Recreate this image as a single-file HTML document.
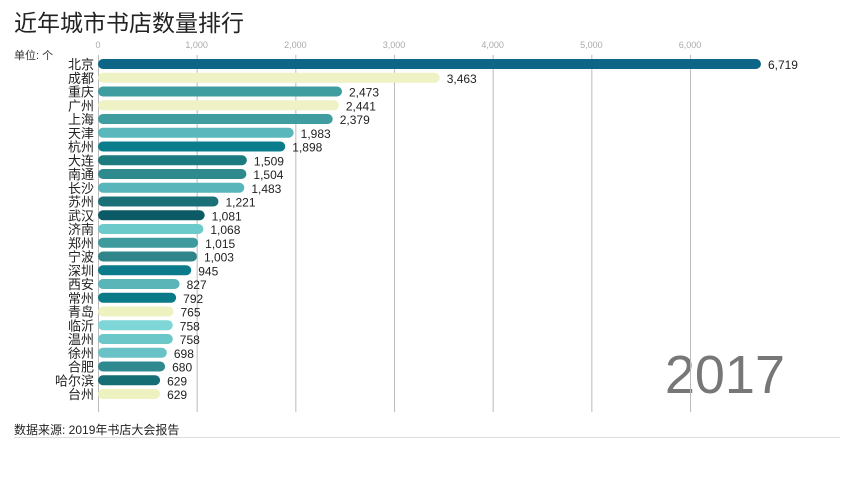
<!DOCTYPE html>
<html><head><meta charset="utf-8"><style>
body{margin:0;background:#fff;font-family:"Liberation Sans","Noto Sans CJK SC",sans-serif;}
svg text{font-family:"Liberation Sans","Noto Sans CJK SC",sans-serif;}
</style></head><body>
<svg id="c" width="854" height="480">
<text x="14" y="31" font-size="23" fill="#222">近年城市书店数量排行</text>
<text x="14" y="59" font-size="11" fill="#333">单位: 个</text>
<text x="14" y="434" font-size="12" fill="#222">数据来源: 2019年书店大会报告</text>
<line x1="14" y1="437.5" x2="840" y2="437.5" stroke="#ddd"/>
<text x="785" y="393" font-size="54" fill="#777" text-anchor="end">2017</text>
<g id="grid"></g><g id="bars"></g>
</svg>
<script>
const cities=["北京","成都","重庆","广州","上海","天津","杭州","大连","南通","长沙","苏州","武汉","济南","郑州","宁波","深圳","西安","常州","青岛","临沂","温州","徐州","合肥","哈尔滨","台州"];
const values=[6719,3463,2473,2441,2379,1983,1898,1509,1504,1483,1221,1081,1068,1015,1003,945,827,792,765,758,758,698,680,629,629];
const colors=["#0d6688","#eef2c4","#3f9da0","#eef2c4","#3f9da0","#5ab8bc","#0a7d8c","#1d7a7e","#2f8a8e","#58b5ba","#1b7078","#0c5a66","#6ccacb","#3f9a9e","#2f858a","#0b7a8a","#5ab5b8","#0b7a88","#eef2c0","#7fd6d6","#6cc7c8","#68c2c6","#2f8a90","#156e74","#eef2c0"];
const ticks=[0,1000,2000,3000,4000,5000,6000];
const NS="http://www.w3.org/2000/svg";
const x=v=>98+v*98.67/1000;
const y=i=>64+i*13.75;
const g=document.getElementById('grid'),b=document.getElementById('bars');
function mk(p,t,a){const e=document.createElementNS(NS,t);for(const k in a)e.setAttribute(k,a[k]);p.appendChild(e);return e;}
ticks.forEach(t=>{
 const l=mk(g,'line',{x1:x(t)+0.5,x2:x(t)+0.5,y1:55,y2:412,stroke:'#bbb'});
 
 
 const tx=mk(g,'text',{x:x(t),y:48,'font-size':9,fill:'#aaa','text-anchor':'middle'});
 tx.textContent=t.toLocaleString('en-US');
 
 
});
cities.forEach((c,i)=>{
 const r=mk(b,'rect',{x:x(0),y:y(i)-5,width:x(values[i])-x(0),height:10,rx:5,fill:colors[i]});
 
 
 const lb=mk(b,'text',{x:94,y:y(i)+5,'font-size':13,fill:'#222','text-anchor':'end'});
 lb.textContent=c;
 
 
 const vl=mk(b,'text',{x:x(values[i])+7,y:y(i)+5,'font-size':12,fill:'#222'});
 vl.textContent=values[i].toLocaleString('en-US');
 
 
});
</script>
</body></html>
